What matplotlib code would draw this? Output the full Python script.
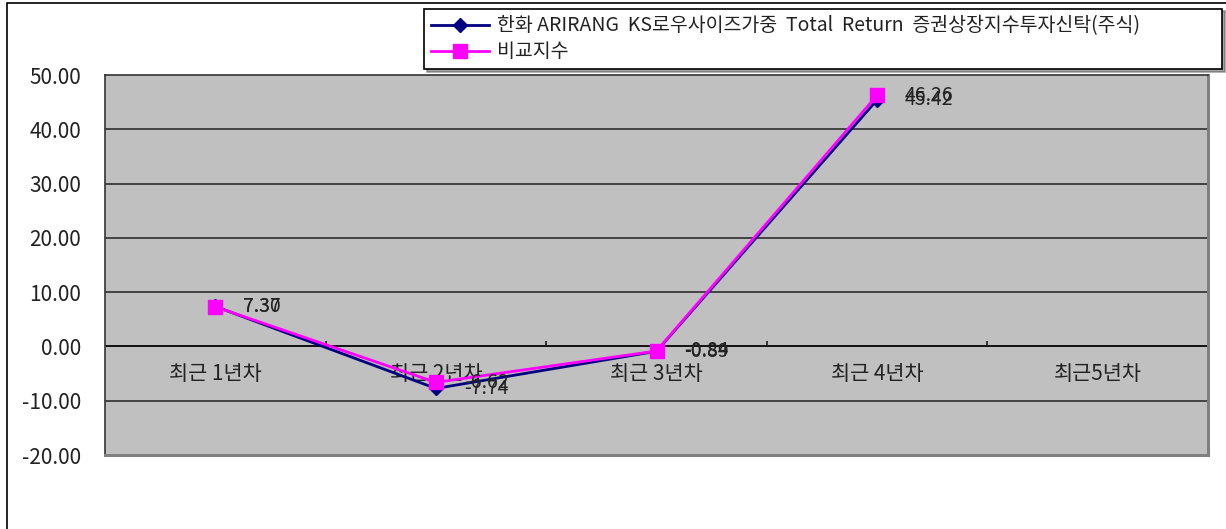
import numpy as np
import matplotlib.pyplot as plt
from matplotlib.patches import Rectangle

plt.rcParams['font.family'] = ['Noto Sans CJK KR', 'DejaVu Sans']

categories = ['최근 1년차', '최근 2년차', '최근 3년차', '최근 4년차', '최근5년차']
fund_name = '한화 ARIRANG  KS로우사이즈가중  Total  Return  증권상장지수투자신탁(주식)'
index_name = '비교지수'
fund = [7.37, -7.74, -0.89, 45.42]
bench = [7.30, -6.62, -0.84, 46.26]
yticks = [50, 40, 30, 20, 10, 0, -10, -20]

fig = plt.figure(figsize=(12.26, 5.29), dpi=100)
ax = fig.add_axes([105/1226, 1-455/529, 1103/1226, 380/529])
ax.set_facecolor('#C0C0C0')

# outer frame of the chart object
fig.patches.append(Rectangle((7/1226, -0.05), 1.1, 1-3/529+0.05, transform=fig.transFigure,
                             fill=False, edgecolor='black', linewidth=1.2))

x = np.arange(len(categories))
ax.set_xlim(-0.5, len(categories)-0.5)
ax.set_ylim(-20, 50)
ax.set_yticks(yticks)
ax.set_yticklabels(['%.2f' % v for v in yticks], fontsize=15, color='#222222')
ax.tick_params(axis='y', length=0, pad=17)
ax.set_xticks([])

for v in yticks[1:-1]:
    ax.axhline(v, color='#222222', linewidth=1.1, zorder=1)
ax.axhline(0, color='#111111', linewidth=1.3, zorder=1)
ax.vlines(x[:-1]+0.5, 0, 1.0, color='#111111', linewidth=1.1, zorder=1)

for s in ['left', 'top']:
    ax.spines[s].set_color('#333333')
    ax.spines[s].set_linewidth(1.2)
for s in ['right', 'bottom']:
    ax.spines[s].set_color('#808080')
    ax.spines[s].set_linewidth(2.2)

for i, c in enumerate(categories):
    ax.annotate(c, (i, 0), xytext=(0, -12), textcoords='offset points',
                ha='center', va='top', fontsize=15, color='#222222')

n = len(fund)
ax.plot(x[:n], fund, color='#000080', marker='D', markersize=7, linewidth=2, zorder=3,
        label=fund_name)
ax.plot(x[:n], bench, color='#FF00FF', marker='s', markersize=10, linewidth=2, zorder=4,
        label=index_name)

for i in range(n):
    ax.annotate('%.2f' % fund[i], (i, fund[i]), xytext=(20, 0), textcoords='offset points',
                ha='left', va='center', fontsize=14, color='#222222', zorder=5)
    ax.annotate('%.2f' % bench[i], (i, bench[i]), xytext=(20, 0), textcoords='offset points',
                ha='left', va='center', fontsize=14, color='#222222', zorder=5)

leg = fig.legend(loc='upper left', bbox_to_anchor=(424/1226, 1-14/529, 798/1226, 0.01),
                 mode='expand', fontsize=14, handlelength=3.0, frameon=True, fancybox=False,
                 shadow=True, borderaxespad=0, labelspacing=0.25, borderpad=0.35,
                 handletextpad=0.4)
leg.get_frame().set_edgecolor('black')
leg.get_frame().set_linewidth(1.2)
for t in leg.get_texts():
    t.set_color('#222222')

fig.savefig('out.png', dpi=100)
